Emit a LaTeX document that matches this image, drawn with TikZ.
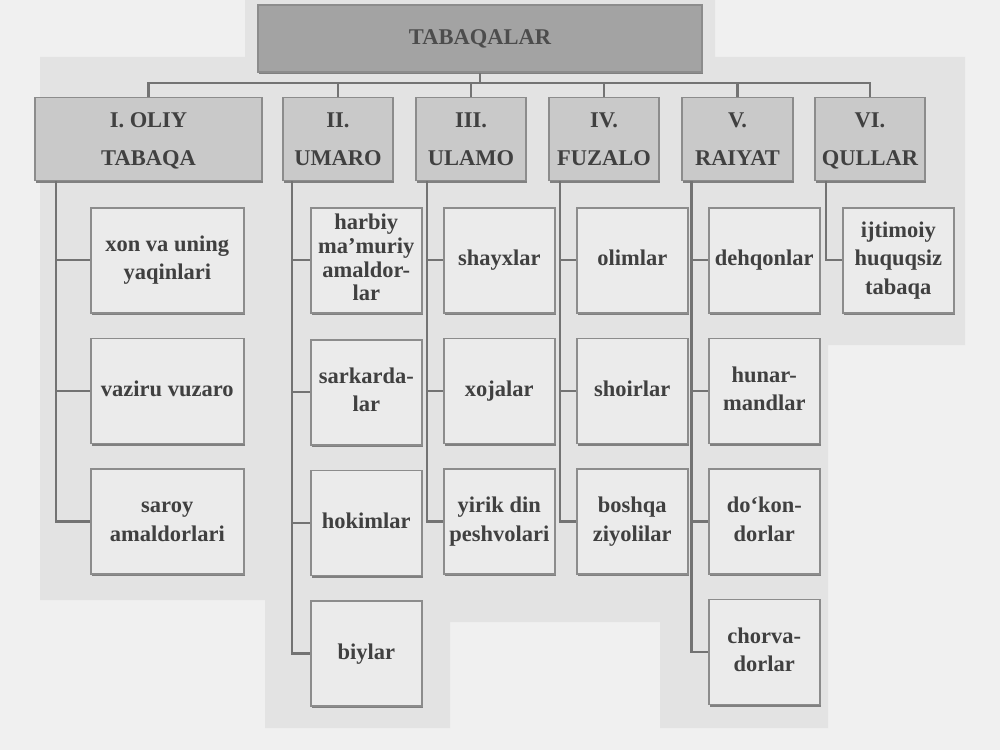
\documentclass[tikz,border=0pt]{standalone}
\usepackage{fontspec}
\setmainfont{Liberation Serif}
\usetikzlibrary{positioning,calc,shadows}
\tikzset{
  base/.style={rectangle, draw=black!45, line width=0.9pt, text=black!75, align=flush center, inner sep=2pt,
    font=\fontsize{12.8}{16}\selectfont\bfseries,
    execute at begin node=\strut, execute at end node=\strut,
    general shadow={fill=black!50, shadow xshift=0.6pt, shadow yshift=-1.3pt}},
  root/.style={base, fill=black!36, minimum width=8.88cm, minimum height=1.34cm, text width=8cm, text=black!70},
  cls/.style={base, fill=black!21, minimum width=2.2cm, minimum height=1.66cm, text width=2.14cm, inner xsep=1pt,
    font=\fontsize{12.8}{21.5}\selectfont\bfseries},
  grp/.style={base, fill=black!8, minimum width=2.22cm, minimum height=2.1cm, text width=2.18cm, inner xsep=0.5pt},
  link/.style={draw=black!55, line width=1.3pt},
  node distance=0.48cm
}
\begin{document}
\begin{tikzpicture}[x=0.02cm, y=-0.02cm]
  \useasboundingbox (0,0) rectangle (1000,750);
  \fill[black!6] (0,0) rectangle (1000,750);
  % scanned page
  \fill[black!11] (40,57) -- (245,57) -- (245,0) -- (715,0) -- (715,57) -- (965,57) -- (965,345)
    -- (828,345) -- (828,728) -- (660,728) -- (660,622) -- (450,622) -- (450,728) -- (265,728)
    -- (265,600) -- (40,600) -- cycle;

  \node[root] (top) at (480,38.5) {TABAQALAR};

  \node[cls, minimum width=4.54cm, text width=4.4cm] (h1) at (148.5,139) {I. OLIY\\TABAQA};
  \node[cls] (h2) at (338,139) {II.\\UMARO};
  \node[cls] (h3) at (471,139) {III.\\ULAMO};
  \node[cls] (h4) at (604,139) {IV.\\FUZALO};
  \node[cls] (h5) at (737.5,139) {V.\\RAIYAT};
  \node[cls] (h6) at (870,139) {VI.\\QULLAR};

  \node[grp, minimum width=3.06cm, text width=3cm, anchor=north west] (c11) at (90,207) {xon va uning\\yaqinlari};
  \node[grp, minimum width=3.06cm, text width=3cm, below=of c11] (c12) {vaziru vuzaro};
  \node[grp, minimum width=3.06cm, text width=3cm, below=of c12] (c13) {saroy\\amaldorlari};

  \node[grp, anchor=north west, inner ysep=0pt, font=\fontsize{12.8}{13.6}\selectfont\bfseries] (c21) at (310,207)
    {harbiy\\ma’muriy\\amaldor-\\lar};
  \node[grp, anchor=north west] (c22) at (310,339) {sarkarda-\\lar};
  \node[grp, below=of c22] (c23) {hokimlar};
  \node[grp, below=of c23] (c24) {biylar};

  \node[grp, anchor=north west] (c31) at (443,207) {shayxlar};
  \node[grp, below=of c31] (c32) {xojalar};
  \node[grp, below=of c32] (c33) {yirik din\\peshvolari};

  \node[grp, anchor=north west] (c41) at (576,207) {olimlar};
  \node[grp, below=of c41] (c42) {shoirlar};
  \node[grp, below=of c42] (c43) {boshqa\\ziyolilar};

  \node[grp, anchor=north west] (c51) at (708,207) {dehqonlar};
  \node[grp, below=of c51] (c52) {hunar-\\mandlar};
  \node[grp, below=of c52] (c53) {do‘kon-\\dorlar};
  \node[grp, below=of c53] (c54) {chorva-\\dorlar};

  \node[grp, anchor=north west] (c61) at (842,207) {ijtimoiy\\huquqsiz\\tabaqa};
  %
  \coordinate (bus) at (480,83);
  \draw[link] (top) -- (bus);
  \foreach \h in {h1,h2,h3,h4,h5,h6}
    \draw[link] (bus) -| (\h);

  \coordinate (t1) at ($(h1.south west)+(22,0)$);
  \coordinate (t2) at ($(h2.south west)+(10,0)$);
  \coordinate (t3) at ($(h3.south west)+(12,0)$);
  \coordinate (t4) at ($(h4.south west)+(12,0)$);
  \coordinate (t5) at ($(h5.south west)+(10,0)$);
  \coordinate (t6) at ($(h6.south west)+(12,0)$);

  \foreach \c in {c11,c12,c13} \draw[link] (t1) |- (\c);
  \foreach \c in {c21,c22,c23,c24} \draw[link] (t2) |- (\c);
  \foreach \c in {c31,c32,c33} \draw[link] (t3) |- (\c);
  \foreach \c in {c41,c42,c43} \draw[link] (t4) |- (\c);
  \foreach \c in {c51,c52,c53,c54} \draw[link] (t5) |- (\c);
  \draw[link] (t6) |- (c61);
\end{tikzpicture}
\end{document}
